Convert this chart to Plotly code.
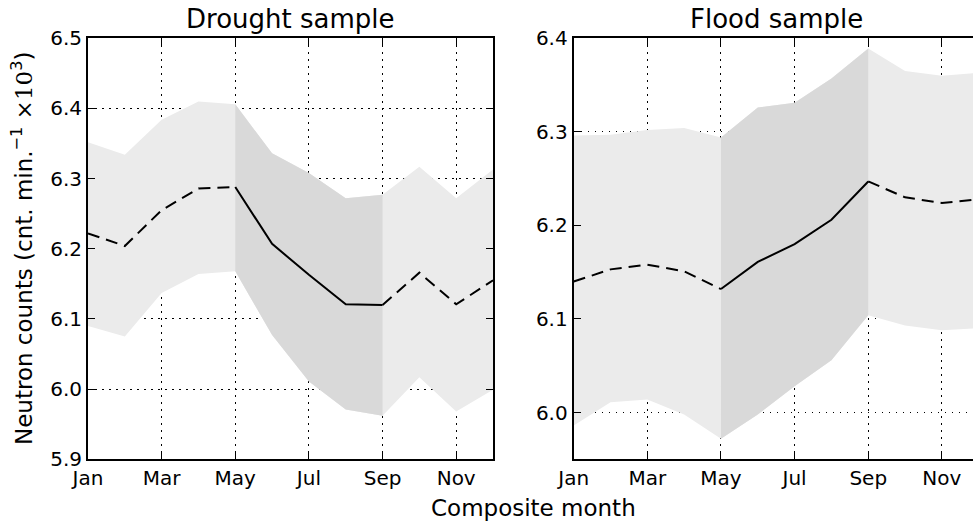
import plotly.graph_objects as go

months = ["Jan", "Feb", "Mar", "Apr", "May", "Jun", "Jul", "Aug", "Sep", "Oct", "Nov", "Dec"]
tick_months = ["Jan", "Mar", "May", "Jul", "Sep", "Nov"]

drought_mean = [6.222, 6.204, 6.255, 6.286, 6.288, 6.207, 6.163, 6.121, 6.120, 6.166, 6.121, 6.155]
drought_upper = [6.352, 6.334, 6.384, 6.410, 6.406, 6.336, 6.308, 6.272, 6.277, 6.317, 6.272, 6.313]
drought_lower = [6.090, 6.075, 6.137, 6.164, 6.168, 6.077, 6.011, 5.971, 5.962, 6.017, 5.968, 5.999]

flood_mean = [6.140, 6.153, 6.158, 6.151, 6.132, 6.161, 6.180, 6.206, 6.247, 6.230, 6.224, 6.228]
flood_upper = [6.296, 6.297, 6.302, 6.304, 6.294, 6.326, 6.331, 6.357, 6.389, 6.365, 6.360, 6.363]
flood_lower = [5.986, 6.011, 6.014, 5.998, 5.972, 5.998, 6.028, 6.056, 6.104, 6.093, 6.088, 6.090]

season_start, season_end = 4, 8  # May .. Sep (highlighted season)

W, H = 973, 522
LIGHT = "#ebebeb"
DARK = "#d9d9d9"
FONT = "DejaVu Sans"


def px(xw):
    return xw / W


def py(yw):
    return 1 - yw / H


xs = list(range(len(months)))
fig = go.Figure()


def add_panel(mean, upper, lower, xa, ya):
    fig.add_trace(go.Scatter(x=xs, y=upper, mode="lines", line=dict(width=0), xaxis=xa, yaxis=ya,
                             showlegend=False, hoverinfo="skip"))
    fig.add_trace(go.Scatter(x=xs, y=lower, mode="lines", line=dict(width=0), fill="tonexty",
                             fillcolor=LIGHT, xaxis=xa, yaxis=ya, showlegend=False, hoverinfo="skip"))
    sx = xs[season_start:season_end + 1]
    fig.add_trace(go.Scatter(x=sx, y=upper[season_start:season_end + 1], mode="lines", line=dict(width=0),
                             xaxis=xa, yaxis=ya, showlegend=False, hoverinfo="skip"))
    fig.add_trace(go.Scatter(x=sx, y=lower[season_start:season_end + 1], mode="lines", line=dict(width=0),
                             fill="tonexty", fillcolor=DARK, xaxis=xa, yaxis=ya, showlegend=False,
                             hoverinfo="skip"))
    dx = xs[:season_start + 1] + [None] + xs[season_end:]
    dy = mean[:season_start + 1] + [None] + mean[season_end:]
    fig.add_trace(go.Scatter(x=dx, y=dy, mode="lines", line=dict(color="black", width=2, dash="12px,7px"),
                             xaxis=xa, yaxis=ya, showlegend=False, connectgaps=False))
    fig.add_trace(go.Scatter(x=sx, y=mean[season_start:season_end + 1], mode="lines",
                             line=dict(color="black", width=2), xaxis=xa, yaxis=ya, showlegend=False))


add_panel(drought_mean, drought_upper, drought_lower, "x", "y")
add_panel(flood_mean, flood_upper, flood_lower, "x2", "y2")

left_l, left_r = 88, 493
px_per_month = (left_r - left_l) / 11.0
right_l = 573.7
right_range_end = (W - right_l) / px_per_month
top, bottom = 38.3, 459.3

ydom = [py(bottom), py(top)]

common_x = dict(tickvals=[0, 2, 4, 6, 8, 10], ticktext=tick_months, ticks="inside", ticklen=7,
                tickcolor="black", showgrid=True, gridcolor="black", gridwidth=1, griddash="1.5px,5.5px",
                showline=True, linecolor="black", linewidth=2, zeroline=False, layer="above traces",
                automargin=False, tickfont=dict(family=FONT, size=20, color="black"))
common_y = dict(ticks="inside", ticklen=7, tickcolor="black", showgrid=True, gridcolor="black", gridwidth=1,
                griddash="1.5px,5.5px", showline=True, linecolor="black", linewidth=2, zeroline=False,
                layer="above traces", tickformat=".1f", automargin=False,
                tickfont=dict(family=FONT, size=20, color="black"))

fig.update_layout(
    width=W, height=H, margin=dict(l=0, r=0, t=0, b=0, pad=0, autoexpand=False),
    paper_bgcolor="white", plot_bgcolor="white",
    font=dict(family=FONT, color="black"),
    xaxis=dict(common_x, domain=[px(left_l), px(left_r)], range=[0, 11], mirror="allticks", anchor="y"),
    yaxis=dict(common_y, domain=ydom, range=[5.9, 6.5], dtick=0.1, tick0=5.9, mirror="allticks", anchor="x"),
    xaxis2=dict(common_x, domain=[px(right_l), 1.0], range=[0, right_range_end], mirror="allticks",
                anchor="y2"),
    yaxis2=dict(common_y, domain=ydom, range=[5.95, 6.4], tickvals=[6.0, 6.1, 6.2, 6.3, 6.4], mirror=False,
                anchor="x2"),
)

ann = [
    dict(text="Drought sample", x=px((left_l + left_r) / 2), y=py(19), size=26),
    dict(text="Flood sample", x=px((right_l + right_l + 11 * px_per_month) / 2), y=py(19), size=26),
    dict(text="Composite month", x=px(533), y=py(508), size=23),
    dict(text="Neutron counts (cnt. min.<sup>−1</sup> <span style='font-family:DejaVu Serif'>×10</span><sup>3</sup>)",
         x=px(22), y=py(249), textangle=-90, size=23),
]
for a in ann:
    size = a.pop("size")
    fig.add_annotation(xref="paper", yref="paper", showarrow=False, xanchor="center", yanchor="middle",
                       font=dict(family=FONT, color="black", size=size), **a)

fig.write_html("out.html", config={"displayModeBar": False},
               post_script="document.body.style.margin='0px';document.body.style.overflow='hidden';")
